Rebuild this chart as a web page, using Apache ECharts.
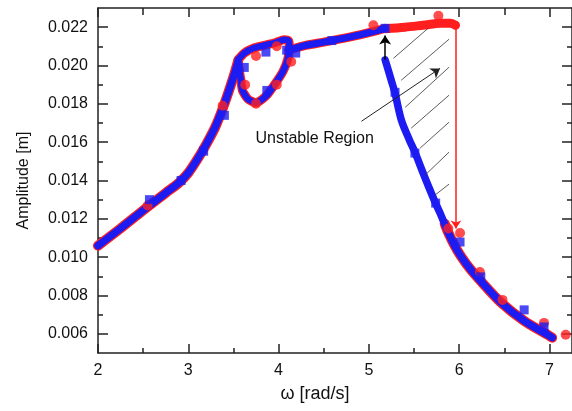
<!DOCTYPE html>
<html>
<head>
<meta charset="utf-8">
<script src="https://cdn.jsdelivr.net/npm/echarts@6/dist/echarts.min.js"></script>
<style>
html,body{margin:0;padding:0;background:#fff;}
#chart{width:572px;height:411px;}
</style>
</head>
<body>
<div id="chart"></div>
<script>
// ---- tick values ----
const xTicksMajor = [2, 3, 4, 5, 6, 7];
const xTicksMinor = [2.5, 3.5, 4.5, 5.5, 6.5];
const yTicksMajor = [0.006, 0.008, 0.010, 0.012, 0.014, 0.016, 0.018, 0.020, 0.022];
const yTicksMinor = [0.007, 0.009, 0.011, 0.013, 0.015, 0.017, 0.019, 0.021];

// ---- curves ----
const riseX = [2.0, 2.25, 2.5, 2.75, 2.9, 3.0, 3.1, 3.2, 3.3, 3.4, 3.5, 3.55];
const riseY = [0.0106, 0.0115, 0.01244, 0.01335, 0.0139, 0.0144, 0.0151, 0.0159, 0.0168, 0.0180, 0.0194, 0.0202];

const loopX = [3.55, 3.62, 3.72, 3.84, 3.97, 4.06, 4.11, 4.12, 4.10, 4.05, 3.97, 3.87, 3.75, 3.66, 3.60, 3.58, 3.56, 3.55];
const loopY = [0.0203, 0.02065, 0.0209, 0.02105, 0.0212, 0.02135, 0.0213, 0.0209, 0.0203, 0.0197, 0.0191, 0.01845, 0.01805, 0.01825, 0.0187, 0.0193, 0.0199, 0.0203];

const upperX = [4.11, 4.3, 4.5, 4.7, 4.9, 5.1, 5.18];
const upperY = [0.0208, 0.02105, 0.02122, 0.0214, 0.0216, 0.02183, 0.02194];

const redUpperX = [5.18, 5.4, 5.6, 5.8, 5.9, 5.96];
const redUpperY = [0.02192, 0.0220, 0.0221, 0.0222, 0.0222, 0.0221];

const descX = [5.18, 5.25, 5.29, 5.36, 5.45, 5.51, 5.6, 5.66, 5.74, 5.8, 5.88, 5.95, 6.02, 6.12, 6.24, 6.46, 6.72, 6.98, 7.03];
const descY = [0.0203, 0.0192, 0.01855, 0.01715, 0.0161, 0.01548, 0.0144, 0.0137, 0.0128, 0.01218, 0.01128, 0.0106, 0.01005, 0.0094, 0.00875, 0.00765, 0.00668, 0.00595, 0.0058];

const redTailX = [5.84, 5.88, 5.95, 6.02, 6.12, 6.24, 6.46, 6.72, 6.98, 7.03];
const redTailY = [0.01175, 0.01128, 0.0106, 0.01005, 0.0094, 0.00875, 0.00765, 0.00668, 0.00595, 0.0058];

// ---- sparse markers ----
const redDotX = [2.55, 3.38, 3.63, 3.75, 3.98, 3.75, 3.98, 4.14, 5.05, 5.77, 5.88, 6.01, 6.23, 6.48, 6.94, 7.18];
const redDotY = [0.0127, 0.0179, 0.0190, 0.0205, 0.0210, 0.0180, 0.0190, 0.0202, 0.0221, 0.0226, 0.0115, 0.01126, 0.00923, 0.00777, 0.00657, 0.00595];

const blueSqX = [2.57, 2.92, 3.17, 3.40, 3.62, 3.86, 3.87, 4.09, 4.19, 4.59, 5.18, 5.29, 5.51, 5.74, 6.01, 6.24, 6.72, 6.94];
const blueSqY = [0.0130, 0.0140, 0.01553, 0.0174, 0.0199, 0.0207, 0.0187, 0.0208, 0.02065, 0.0213, 0.02194, 0.0186, 0.01543, 0.01282, 0.01079, 0.00897, 0.00725, 0.00636];

// ---- annotations (data coordinates) ----
const jumpDownX = [5.965, 5.965];
const jumpDownY = [0.0221, 0.0115];
const jumpUpX = [5.18, 5.18];
const jumpUpY = [0.0203, 0.02157];
const hatchX1 = [5.271, 5.359, 5.403, 5.469, 5.568, 5.623, 5.733];
const hatchY1 = [0.02037, 0.01923, 0.01782, 0.01673, 0.01569, 0.01428, 0.01324];
const hatchX2 = [5.656, 5.888, 5.888, 5.888, 5.888, 5.888, 5.888];
const hatchY2 = [0.02194, 0.02137, 0.01991, 0.01845, 0.01704, 0.01548, 0.01381];
const pointerX = [4.918, 5.788];
const pointerY = [0.01709, 0.01985];
const labelText = 'Unstable Region';
const labelPos = [4.40, 0.01621];

const zip = (xs, ys) => xs.map((x, i) => [x, ys[i]]);

const RED = '#ff1f1f';
const BLUE = '#1c1cf2';
const AX = '#222';
const FONT = 'Liberation Sans, Arial, sans-serif';

function xAx(pos, ticks, len, showLine, labels, extra) {
  return Object.assign({
    type: 'value', min: 2, max: 7.25, position: pos,
    axisLine: {show: showLine, onZero: false, lineStyle: {color: AX, width: 1.5}},
    axisTick: {show: true, inside: true, length: len, customValues: ticks, lineStyle: {color: AX, width: 1.5}},
    axisLabel: labels ? {show: true, customValues: ticks, margin: 10, fontSize: 16, color: '#111', fontFamily: FONT} : {show: false},
    splitLine: {show: false}
  }, extra || {});
}
function yAx(pos, ticks, len, showLine, labels, extra) {
  return Object.assign({
    type: 'value', min: 0.005, max: 0.023, position: pos,
    axisLine: {show: showLine, onZero: false, lineStyle: {color: AX, width: 1.5}},
    axisTick: {show: true, inside: true, length: len, customValues: ticks, lineStyle: {color: AX, width: 1.5}},
    axisLabel: labels ? {show: true, customValues: ticks, margin: 10, fontSize: 16, color: '#111', fontFamily: FONT,
      formatter: v => v.toFixed(3)} : {show: false},
    splitLine: {show: false}
  }, extra || {});
}

function lineSeries(xs, ys, color, width, z, sm) {
  return {
    type: 'line', data: zip(xs, ys), showSymbol: false, symbol: 'none',
    smooth: sm,
    lineStyle: {color: color, width: width, cap: 'round', join: 'round'}, z: z, silent: true
  };
}

const hatchData = hatchX1.map((x, i) => [{coord: [x, hatchY1[i]]}, {coord: [hatchX2[i], hatchY2[i]]}]);

const option = {
  animation: false,
  backgroundColor: '#fff',
  grid: {left: 98, top: 8, right: -3, bottom: 58, containLabel: false},
  xAxis: [
    xAx('bottom', xTicksMajor, 9, true, true, {name: 'ω [rad/s]', nameLocation: 'middle', nameGap: 32,
      nameTextStyle: {fontSize: 18, color: '#111', fontFamily: FONT, padding: [0, 40, 0, 0]}}),
    xAx('bottom', xTicksMinor, 5, false, false),
    xAx('top', xTicksMajor, 9, true, false),
    xAx('top', xTicksMinor, 7, false, false)
  ],
  yAxis: [
    yAx('left', yTicksMajor, 10, true, true, {name: 'Amplitude [m]', nameLocation: 'middle', nameGap: 66,
      nameTextStyle: {fontSize: 16, color: '#111', fontFamily: FONT}}),
    yAx('left', yTicksMinor, 5, false, false),
    yAx('right', yTicksMajor, 10, true, false),
    yAx('right', yTicksMinor, 5, false, false)
  ],
  series: [
    lineSeries(riseX, riseY, RED, 10, 1, 0.3),
    lineSeries(loopX, loopY, RED, 9, 1, 0.2),
    lineSeries(upperX, upperY, RED, 9, 1, 0.3),
    lineSeries(redUpperX, redUpperY, RED, 9, 1, 0.3),
    lineSeries(redTailX, redTailY, RED, 10, 1, 0.3),
    lineSeries(riseX, riseY, BLUE, 7.5, 2, 0.3),
    lineSeries(loopX, loopY, BLUE, 6.5, 2, 0.2),
    lineSeries(upperX, upperY, BLUE, 7, 2, 0.3),
    lineSeries(descX, descY, BLUE, 7.5, 2, 0.3),
    {
      type: 'scatter', data: zip(redDotX, redDotY), symbol: 'circle', symbolSize: 10,
      itemStyle: {color: RED}, z: 3, silent: true
    },
    {
      type: 'scatter', data: zip(blueSqX, blueSqY), symbol: 'rect', symbolSize: 9,
      itemStyle: {color: BLUE}, z: 4, silent: true
    },
    {
      type: 'line', data: [], silent: true, z: 5,
      markLine: {
        silent: true, animation: false, symbol: ['none', 'none'], label: {show: false},
        lineStyle: {color: '#333', width: 0.8, type: 'solid'},
        emphasis: {disabled: true},
        data: hatchData
      }
    },
    {
      type: 'line', data: [], silent: true, z: 5,
      markLine: {
        silent: true, animation: false, symbol: ['none', 'arrow'], symbolSize: 9, label: {show: false},
        lineStyle: {color: '#222', width: 1, type: 'solid'},
        emphasis: {disabled: true},
        data: [[{coord: [pointerX[0], pointerY[0]]}, {coord: [pointerX[1], pointerY[1]]}]]
      }
    },
    {
      type: 'line', data: [], silent: true, z: 5,
      markLine: {
        silent: true, animation: false, symbol: ['none', 'arrow'], symbolSize: 9, label: {show: false},
        lineStyle: {color: '#000', width: 1.5, type: 'solid'},
        emphasis: {disabled: true},
        data: [[{coord: [jumpUpX[0], jumpUpY[0]]}, {coord: [jumpUpX[1], jumpUpY[1]]}]]
      }
    },
    {
      type: 'line', data: [], silent: true, z: 5,
      markLine: {
        silent: true, animation: false, symbol: ['none', 'arrow'], symbolSize: 8, label: {show: false},
        lineStyle: {color: RED, width: 1.5, type: 'solid'},
        emphasis: {disabled: true},
        data: [[{coord: [jumpDownX[0], jumpDownY[0]]}, {coord: [jumpDownX[1], jumpDownY[1]]}]]
      }
    },
    {
      type: 'line', data: [], silent: true, z: 6,
      markPoint: {
        silent: true, animation: false, symbol: 'circle', symbolSize: 0,
        label: {show: true, position: 'inside', formatter: labelText, fontSize: 16, color: '#111', fontFamily: FONT},
        data: [{coord: labelPos}]
      }
    }
  ]
};

const chart = echarts.init(document.getElementById('chart'), null, {renderer: 'canvas'});
chart.setOption(option);
</script>
</body>
</html>
